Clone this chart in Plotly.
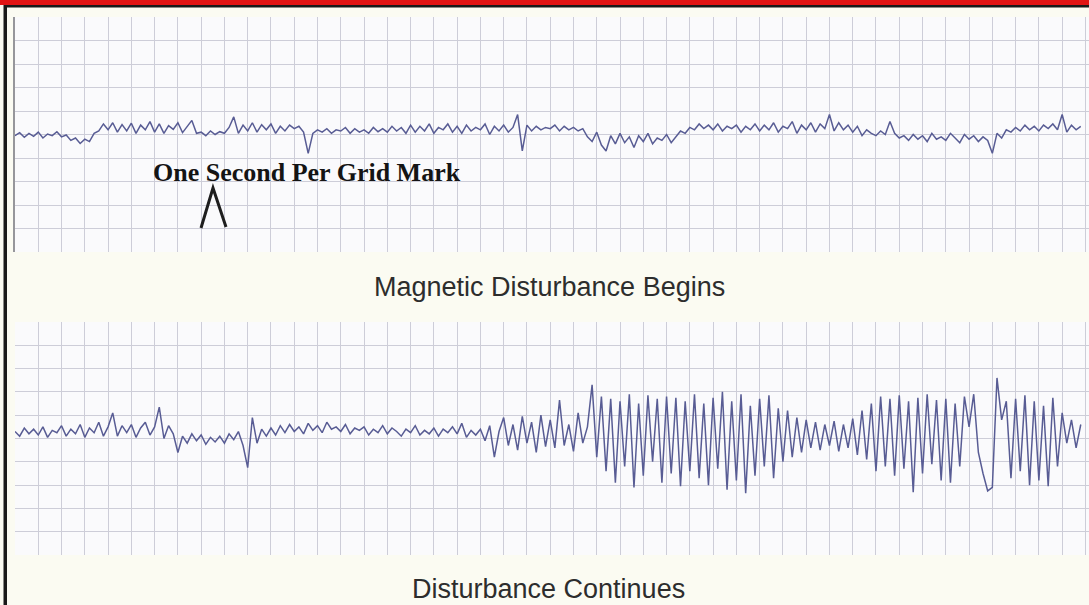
import plotly.graph_objects as go

# ---------------- data (grid units; 1 grid mark = 1 second) ----------------
SAMPLE_STEP = 0.2  # seconds between samples

top_trace = [
    -0.05, 0.08, -0.12, 0.05, -0.08,
    0.10, -0.15, 0.02, -0.05, 0.12,
    -0.10, -0.02, -0.25, -0.15, -0.38,
    -0.20, -0.30, 0.05, 0.15, 0.45,
    0.20, 0.50, 0.10, 0.42, 0.15,
    0.48, 0.05, 0.40, 0.20, 0.55,
    0.10, 0.45, 0.05, 0.38, 0.22,
    0.50, 0.08, 0.35, 0.60, 0.05,
    0.10, -0.05, 0.15, 0.00, 0.12,
    0.05, 0.30, 0.75, 0.05, 0.40,
    0.15, 0.50, 0.10, 0.42, 0.20,
    0.45, 0.05, 0.35, 0.15, 0.40,
    0.25, 0.35, 0.10, -0.80, 0.05,
    0.20, 0.10, 0.25, 0.05, 0.20,
    0.15, 0.30, 0.05, 0.25, 0.10,
    0.20, 0.05, 0.30, 0.12, 0.25,
    0.10, 0.35, 0.15, 0.30, 0.05,
    0.40, 0.10, 0.35, 0.15, 0.45,
    0.05, 0.30, 0.20, 0.45, 0.10,
    0.35, 0.05, 0.40, 0.15, 0.30,
    0.20, 0.45, 0.00, 0.35, 0.15,
    0.40, 0.10, 0.30, 0.85, -0.70,
    0.40, 0.15, 0.35, 0.20, 0.30,
    0.25, 0.40, 0.15, 0.35, 0.20,
    0.30, 0.15, 0.25, -0.10, -0.30,
    0.10, -0.45, -0.70, -0.05, -0.40,
    0.05, -0.35, -0.10, -0.55, -0.05,
    -0.30, 0.05, -0.40, -0.15, -0.25,
    0.00, -0.35, -0.10, 0.15, 0.05,
    0.30, 0.20, 0.45, 0.25, 0.40,
    0.20, 0.45, 0.15, 0.35, 0.25,
    0.40, 0.10, 0.35, 0.20, 0.45,
    0.15, 0.40, 0.20, 0.50, 0.10,
    0.35, 0.25, 0.55, 0.05, 0.40,
    0.20, 0.50, 0.10, 0.45, 0.25,
    0.85, 0.15, 0.50, 0.20, 0.40,
    0.10, 0.35, -0.05, 0.20, 0.05,
    -0.05, 0.15, 0.00, 0.55, 0.05,
    -0.15, -0.05, -0.25, 0.00, -0.20,
    -0.05, -0.30, 0.05, -0.20, -0.10,
    -0.25, 0.05, -0.15, -0.35, 0.00,
    -0.20, -0.05, -0.30, -0.10, -0.25,
    -0.80, 0.05, -0.15, 0.20, 0.10,
    0.30, 0.15, 0.40, 0.20, 0.35,
    0.15, 0.40, 0.25, 0.45, 0.20,
    0.85, 0.10, 0.40, 0.20, 0.35,
]

bottom_trace = [
    0.30, 0.10, 0.45, 0.20, 0.40,
    0.15, 0.50, 0.05, 0.35, 0.25,
    0.55, 0.10, 0.40, 0.20, 0.60,
    0.05, 0.45, 0.25, 0.70, 0.10,
    0.50, 1.10, 0.10, 0.55, 0.25,
    0.60, 0.05, 0.45, 0.70, 0.15,
    0.50, 1.35, 0.00, 0.55, 0.20,
    -0.60, 0.10, -0.20, 0.20, -0.10,
    0.15, -0.25, 0.05, -0.15, 0.10,
    -0.20, 0.20, -0.05, 0.30, -0.30,
    -1.25, 0.90, -0.20, 0.40, 0.10,
    0.45, 0.15, 0.55, 0.25, 0.60,
    0.30, 0.50, 0.20, 0.65, 0.35,
    0.55, 0.25, 0.70, 0.40, 0.50,
    0.30, 0.60, 0.20, 0.45, 0.35,
    0.50, 0.15, 0.40, 0.25, 0.55,
    0.20, 0.45, 0.30, 0.10, 0.40,
    0.25, 0.55, 0.15, 0.35, 0.20,
    0.45, 0.10, 0.40, 0.25, 0.50,
    0.20, 0.65, 0.05, 0.35, 0.15,
    0.40, -0.10, 0.55, -0.80, 0.30,
    0.90, -0.30, 0.60, -0.50, 0.95,
    -0.20, 0.70, -0.60, 1.00, -0.35,
    0.80, -0.40, 1.65, -0.30, 0.60,
    -0.55, 1.10, -0.20, 0.50, 2.30,
    -0.80, 1.80, -1.40, 1.70, -1.90,
    1.60, -1.20, 1.90, -2.10, 1.50,
    -1.60, 1.85, -1.00, 1.70, -1.90,
    1.80, -1.50, 1.75, -2.05, 1.60,
    -1.40, 1.90, -1.70, 1.50, -2.00,
    1.75, -1.30, 2.00, -2.20, 1.60,
    -1.80, 1.90, -2.35, 1.40, -1.60,
    1.70, -1.20, 1.85, -1.70, 1.30,
    -1.00, 1.20, -0.80, 0.90, -0.60,
    0.80, -0.40, 0.70, -0.50, 0.60,
    -0.30, 0.75, -0.55, 0.60, -0.40,
    0.85, -0.70, 1.20, -0.90, 1.50,
    -1.40, 1.80, -1.20, 1.70, -1.60,
    1.85, -1.30, 1.60, -2.30, 1.75,
    -1.50, 1.90, -1.10, 1.65, -1.80,
    1.70, -1.90, 1.50, -1.20, 1.80,
    0.50, 1.90, -0.60, -1.50, -2.25,
    -2.10, 2.60, 0.80, 1.60, -1.70,
    1.70, -1.40, 1.85, -2.00, 1.60,
    -1.80, 1.40, -2.05, 1.75, -1.20,
    1.10, -0.20, 0.80, -0.40, 0.60,
]

top_times = [i * SAMPLE_STEP for i in range(len(top_trace))]
bottom_times = [i * SAMPLE_STEP for i in range(len(bottom_trace))]

title_note = "One Second Per Grid Mark"
caption_top = "Magnetic Disturbance Begins"
caption_bottom = "Disturbance Continues"

# ---------------- figure ----------------
W, H = 1089, 605
def fx(p): return p / W
def fy(p): return 1 - p / H

TRACE_COLOR = "rgb(88,92,148)"
GRID_COLOR = "rgb(205,205,216)"
PAPER = "rgb(251,251,242)"

fig = go.Figure()
fig.add_trace(go.Scatter(x=top_times, y=top_trace, mode="lines",
                         line=dict(color=TRACE_COLOR, width=1.5),
                         xaxis="x", yaxis="y", hoverinfo="skip"))
fig.add_trace(go.Scatter(x=bottom_times, y=bottom_trace, mode="lines",
                         line=dict(color=TRACE_COLOR, width=1.5),
                         xaxis="x2", yaxis="y2", hoverinfo="skip"))

xmax = (W - 15) / 23.27
common_x = dict(range=[0, xmax], dtick=1, tick0=0, showticklabels=False,
                showgrid=True, gridcolor=GRID_COLOR, gridwidth=1,
                zeroline=False, ticks="", showline=False, fixedrange=True)
common_y = dict(range=[-5, 5], dtick=1, tick0=0, showticklabels=False,
                showgrid=True, gridcolor=GRID_COLOR, gridwidth=1,
                zeroline=False, ticks="", fixedrange=True)

fig.update_layout(
    width=W, height=H, autosize=False,
    margin=dict(l=0, r=0, t=0, b=0),
    paper_bgcolor=PAPER, plot_bgcolor="rgb(250,250,252)",
    showlegend=False,
    xaxis=dict(domain=[fx(15), 1.0], anchor="y", **common_x),
    yaxis=dict(domain=[fy(252), fy(17)], anchor="x", showline=True,
               linecolor="rgb(150,150,155)", linewidth=2, **common_y),
    xaxis2=dict(domain=[fx(15), 1.0], anchor="y2", **common_x),
    yaxis2=dict(domain=[fy(555), fy(322)], anchor="x2", showline=False, **common_y),
)

# frame: red bar, black rule and left border
fig.add_shape(type="rect", xref="paper", yref="paper", x0=0, x1=1, y0=fy(5), y1=1,
              fillcolor="rgb(225,20,20)", line=dict(width=0), layer="above")
fig.add_shape(type="rect", xref="paper", yref="paper", x0=fx(4), x1=1, y0=fy(7.5), y1=fy(5),
              fillcolor="rgb(25,25,25)", line=dict(width=0), layer="above")
fig.add_shape(type="rect", xref="paper", yref="paper", x0=fx(3.5), x1=fx(7), y0=0, y1=fy(5),
              fillcolor="rgb(25,25,25)", line=dict(width=0), layer="above")

# caret marker under the note
fig.add_shape(type="path", xref="paper", yref="paper",
              path=f"M {fx(201)},{fy(228)} L {fx(213)},{fy(188)} L {fx(226)},{fy(227)}",
              line=dict(color="rgb(30,30,30)", width=3), layer="above")

fig.add_annotation(text=f"<b>{title_note}</b>", xref="paper", yref="paper",
                   x=fx(307), y=fy(172), xanchor="center", yanchor="middle",
                   showarrow=False,
                   font=dict(family="Liberation Serif", size=26, color="rgb(20,20,20)"))
fig.add_annotation(text=caption_top, xref="paper", yref="paper",
                   x=fx(549), y=fy(287), xanchor="center", yanchor="middle",
                   showarrow=False,
                   font=dict(family="Liberation Sans", size=27, color="rgb(45,45,45)"))
fig.add_annotation(text=caption_bottom, xref="paper", yref="paper",
                   x=fx(548), y=fy(589), xanchor="center", yanchor="middle",
                   showarrow=False,
                   font=dict(family="Liberation Sans", size=27, color="rgb(45,45,45)"))

fig.write_html("out.html",
               config={"displayModeBar": False, "staticPlot": True},
               post_script="document.body.style.margin='0';document.body.style.overflow='hidden';")
